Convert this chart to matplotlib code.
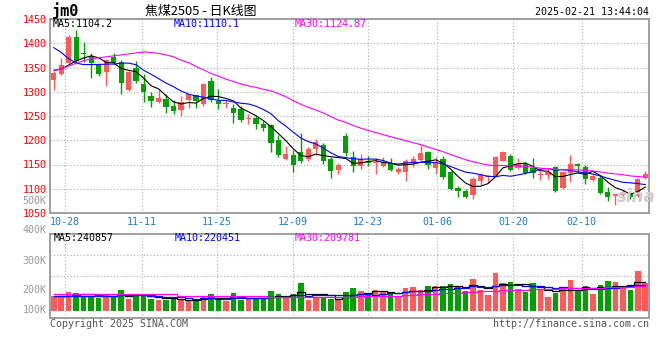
import numpy as np
import pandas as pd
import matplotlib
matplotlib.use('Agg')
import matplotlib.pyplot as plt

# --- Data (80 trading days, 10-25 .. 02-21) ---
opens = [1324, 1336, 1359, 1412, 1380, 1373, 1357, 1340, 1372, 1362,
         1304, 1349, 1315, 1292, 1279, 1286, 1271, 1262, 1283, 1293,
         1275, 1322, 1281, 1274, 1266, 1264, 1243, 1245, 1234, 1231,
         1201, 1161, 1170, 1176, 1162, 1181, 1190, 1161, 1138, 1209,
         1165, 1146, 1157, 1153, 1147, 1154, 1135, 1135, 1154, 1160,
         1175, 1143, 1161, 1134, 1102, 1095, 1087, 1117, 1125, 1125,
         1158, 1168, 1142, 1152, 1142, 1129, 1128, 1145, 1101, 1132,
         1152, 1145, 1119, 1123, 1093, 1086, 1087, 1092, 1085, 1123]
highs = [1342, 1369, 1418, 1427, 1402, 1380, 1359, 1368, 1380, 1366,
         1342, 1364, 1337, 1300, 1304, 1295, 1284, 1291, 1296, 1294,
         1319, 1330, 1306, 1283, 1274, 1271, 1255, 1250, 1240, 1234,
         1211, 1188, 1180, 1215, 1186, 1202, 1195, 1166, 1154, 1214,
         1178, 1172, 1168, 1163, 1166, 1163, 1145, 1162, 1168, 1190,
         1177, 1165, 1167, 1137, 1106, 1100, 1125, 1133, 1129, 1168,
         1177, 1172, 1164, 1156, 1163, 1137, 1143, 1147, 1137, 1170,
         1153, 1150, 1131, 1128, 1104, 1090, 1097, 1096, 1123, 1137]
lows = [1303, 1334, 1356, 1359, 1362, 1328, 1332, 1311, 1357, 1295,
        1302, 1319, 1278, 1268, 1276, 1257, 1254, 1250, 1266, 1267,
        1271, 1279, 1264, 1267, 1236, 1238, 1233, 1224, 1219, 1175,
        1165, 1160, 1135, 1153, 1158, 1170, 1152, 1122, 1131, 1167,
        1135, 1141, 1146, 1130, 1145, 1137, 1131, 1115, 1145, 1158,
        1140, 1130, 1121, 1098, 1084, 1080, 1079, 1108, 1111, 1124,
        1157, 1136, 1140, 1130, 1123, 1119, 1120, 1094, 1100, 1113,
        1132, 1110, 1116, 1089, 1074, 1067, 1079, 1078, 1083, 1121]
closes = [1338, 1356, 1413, 1364, 1377, 1360, 1336, 1366, 1359, 1319,
          1341, 1322, 1300, 1280, 1287, 1269, 1260, 1278, 1295, 1281,
          1317, 1283, 1274, 1276, 1257, 1242, 1245, 1233, 1226, 1195,
          1170, 1172, 1148, 1158, 1182, 1196, 1158, 1137, 1148, 1173,
          1146, 1162, 1153, 1155, 1155, 1139, 1141, 1158, 1161, 1174,
          1149, 1156, 1125, 1100, 1096, 1082, 1120, 1128, 1127, 1166,
          1175, 1139, 1152, 1132, 1132, 1130, 1135, 1095, 1135, 1152,
          1146, 1120, 1126, 1092, 1084, 1089, 1094, 1084, 1120, 1130]
# volume in thousands of lots
volumes = [128, 128, 159, 151, 125, 128, 108, 131, 114, 176,
           99, 133, 142, 99, 91, 91, 108, 91, 88, 91,
           125, 142, 111, 82, 151, 91, 97, 111, 99, 168,
           142, 105, 142, 236, 91, 119, 119, 99, 91, 159,
           193, 168, 148, 176, 159, 159, 119, 193, 202, 176,
           210, 210, 210, 227, 210, 168, 270, 176, 133, 324,
           236, 244, 185, 159, 236, 176, 116, 151, 193, 261,
           176, 210, 142, 219, 253, 244, 210, 176, 338, 236]

# moving-average values visible before enough in-window history exists
ma5_head = [1344, 1347, 1355, 1364]
ma10_head = [1391, 1381, 1368, 1359, 1356, 1356, 1356, 1357, 1357]
ma30_head = [1344, 1347, 1353, 1359, 1364, 1368, 1370, 1372, 1374, 1376,
             1378, 1380, 1382, 1381, 1379, 1376, 1372, 1365, 1360, 1352,
             1345, 1338, 1332, 1326, 1321, 1316, 1312, 1309, 1305]
vma5_head = [122, 122, 128, 131]
vma10_head = [122, 122, 123, 124, 125, 126, 126, 127, 128]
vma30_head = [139] * 17 + [127] * 6 + [122] * 6

tick_labels = ['10-28', '11-11', '11-25', '12-09', '12-23', '01-06', '01-20', '02-10']
tick_pos = [1.5, 11.74, 21.84, 31.98, 42.0, 51.21, 61.36, 70.49]

RED = '#ff5a5a'
GREEN = '#00a000'
GRID = '#aaaaaa'
MONO = 'DejaVu Sans Mono'
CJK = ['Noto Sans CJK SC', 'DejaVu Sans']


def moving_avg(values, n, head):
    s = pd.Series(values, dtype=float).rolling(n).mean().values
    s[:len(head)] = head
    return s


def px(x, y):
    # pixel position -> figure fraction
    return x / 660, 1 - y / 360


o = np.array(opens, dtype=float)
h = np.array(highs, dtype=float)
l = np.array(lows, dtype=float)
c = np.array(closes, dtype=float)
v = np.array(volumes, dtype=float)
x = np.arange(len(c))
colors = np.where(c >= o, RED, GREEN)

fig = plt.figure(figsize=(6.6, 3.6), dpi=100)
ax = fig.add_axes([50 / 660, 1 - 213 / 360, 599 / 660, 194 / 360])
axv = fig.add_axes([50 / 660, 1 - 317.7 / 360, 599 / 660, 83.4 / 360])

# --- Price panel ---
ax.vlines(x, l, h, colors=colors, lw=1, zorder=2)
ax.bar(x, np.maximum(np.abs(c - o), 0.9), bottom=np.minimum(o, c),
       width=0.7, color=colors, linewidth=0, zorder=2)
ax.plot(x, moving_avg(c, 5, ma5_head), color='black', lw=0.8, zorder=3)
ax.plot(x, moving_avg(c, 10, ma10_head), color='#0000ff', lw=0.8, zorder=3)
ax.plot(x, moving_avg(c, 30, ma30_head), color='#ff00ff', lw=0.8, zorder=3)

ax.set_xlim(-0.5, len(c) - 0.5)
ax.set_ylim(1050, 1450)
ax.set_yticks(range(1050, 1451, 50))
ax.set_xticks(tick_pos)
ax.set_xticklabels(tick_labels)
ax.tick_params(axis='y', length=0, pad=2.4, labelcolor='#ff0000', labelsize=7.2)
ax.tick_params(axis='x', length=0, pad=2.8, labelcolor='#1a7ad0', labelsize=7.2)
for lab in ax.get_xticklabels() + ax.get_yticklabels():
    lab.set_family(MONO)
ax.grid(True, color=GRID, linestyle=(0, (1, 2)), lw=0.8, zorder=0)

# --- Volume panel ---
axv.bar(x, v, width=0.74, color=colors, linewidth=0, zorder=2)
axv.plot(x, moving_avg(v, 5, vma5_head), color='black', lw=0.9,
         drawstyle='steps-mid', zorder=3)
axv.plot(x, moving_avg(v, 10, vma10_head), color='#0000ff', lw=0.9,
         drawstyle='steps-mid', zorder=3)
axv.plot(x, moving_avg(v, 30, vma30_head), color='#ff00ff', lw=0.9,
         drawstyle='steps-mid', zorder=3)
axv.set_xlim(-0.5, len(c) - 0.5)
vlo, vhi = -59.6, 651
axv.set_ylim(vlo, vhi)
axv.set_yticks([vlo + f * (vhi - vlo) for f in (0.25, 0.5, 0.75)])
axv.set_yticklabels([])
axv.set_xticks(tick_pos)
axv.set_xticklabels([])
axv.tick_params(length=0)
axv.grid(True, color=GRID, linestyle=(0, (1, 2)), lw=0.8, zorder=0)

for a in (ax, axv):
    for s in a.spines.values():
        s.set_color('#999999')
        s.set_linewidth(1.3)

# volume axis labels as drawn by the source chart
for lab, fy in [('500K', 1.403), ('400K', 1.052), ('300K', 0.68),
                ('200K', 0.332), ('100K', 0.092)]:
    axv.text(-3.3 / 599, fy, lab, transform=axv.transAxes, ha='right',
             va='center', color='#999999', fontsize=7.2, family=MONO)

# --- Header / legend texts ---
fig.text(*px(52, 11), 'jm0', fontsize=11, fontweight='bold', family=MONO,
         va='center', ha='left')
fig.text(*px(201, 11), '焦煤2505 - 日K线图', fontsize=9.3, family=CJK,
         va='center', ha='center')
fig.text(*px(649, 12), '2025-02-21 13:44:04', fontsize=7.2, family=MONO,
         va='center', ha='right')

fig.text(*px(53, 24), 'MA5:1104.2', color='black', fontsize=7.2, family=MONO, va='center')
fig.text(*px(174, 24), 'MA10:1110.1', color='#0000ff', fontsize=7.2, family=MONO, va='center')
fig.text(*px(295, 24), 'MA30:1124.87', color='#ff00ff', fontsize=7.2, family=MONO, va='center')

fig.text(*px(54, 238), 'MA5:240857', color='black', fontsize=7.2, family=MONO, va='center')
fig.text(*px(175, 238), 'MA10:220451', color='#0000ff', fontsize=7.2, family=MONO, va='center')
fig.text(*px(295, 238), 'MA30:209781', color='#ff00ff', fontsize=7.2, family=MONO, va='center')

fig.text(*px(50, 324), 'Copyright 2025 SINA.COM', color='#555555', fontsize=7.2,
         family=MONO, va='center')
fig.text(*px(649, 324), 'http://finance.sina.com.cn', color='#555555', fontsize=7.2,
         family=MONO, va='center', ha='right')
fig.text(*px(636, 197), 'sina', color='#cfcfcf', fontsize=12, fontstyle='italic',
         fontweight='bold', va='center', ha='center', zorder=1)

fig.savefig('out.png', dpi=100)
